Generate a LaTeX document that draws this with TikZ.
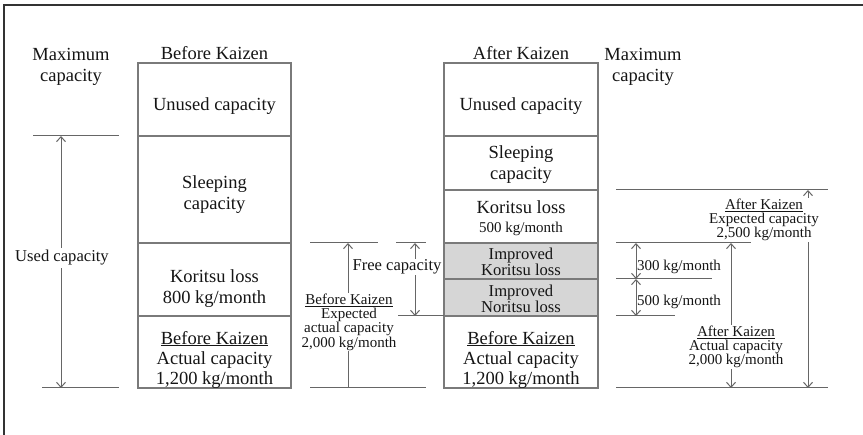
\documentclass[tikz,border=0pt]{standalone}
\usepackage{fontspec}
\setmainfont{Liberation Serif}
\newfontfamily\tmsf{Liberation Serif}
\usetikzlibrary{arrows.meta}
\definecolor{framec}{HTML}{333333}
\definecolor{boxc}{HTML}{7A7A7A}
\definecolor{dimc}{HTML}{666666}
\definecolor{grayfill}{HTML}{D6D6D6}
\definecolor{txt}{HTML}{151515}
\newcommand\bigf{\tmsf\fontsize{18.5}{21.5}\selectfont}
\newcommand\smf{\tmsf\fontsize{15}{14.3}\selectfont}
\newcommand\midf{\tmsf\fontsize{16.6}{16}\selectfont}
\begin{document}
\begin{tikzpicture}[x=1pt,y=-1pt,
  every node/.style={text=txt},
  frameline/.style={draw=framec, line width=1.5pt},
  cell/.style={draw=boxc, line width=1.2pt, minimum width=153pt, inner sep=0pt},
  graycell/.style={cell, fill=grayfill},
  celltext/.style={inner sep=0pt, align=center, font=\bigf, yshift=-5pt},
  graytext/.style={inner sep=0pt, align=center, font=\midf, yshift=-1pt},
  head/.style={inner sep=0pt, align=center, font=\bigf},
  dim/.style={draw=dimc, line width=1pt},
  arr/.style={dim, {Straight Barb[length=5pt,width=9pt]}-{Straight Barb[length=5pt,width=9pt]}},
  arrup/.style={dim, {Straight Barb[length=5pt,width=9pt]}-},
  lbl/.style={fill=white, inner sep=1pt, align=center, font=\smf},
  plain/.style={inner sep=0pt, align=center, font=\smf}
]
\useasboundingbox (0,0) rectangle (863,435);
% frame
\coordinate (f1) at (4,440);
\coordinate (f2) at (4,5);
\coordinate (f3) at (870,5);
\draw[frameline] (f1) -- (f2) -- (f3);

% headers
\node[head] (hb) at (214.5,53) {Before Kaizen};
\node[head] (ha) at (521,53) {After Kaizen};
\node[head] (ml) at (71,67) {Maximum\\capacity};
\node[head] (mr) at (643,67) {Maximum\\capacity};

% before kaizen column
\node[cell, minimum height=73pt] (bU) at (214.5,99.5) {};
\node[cell, minimum height=107pt] (bS) at (214.5,189.5) {};
\node[cell, minimum height=73pt] (bK) at (214.5,279.5) {};
\node[cell, minimum height=72pt] (bA) at (214.5,352) {};
\node[celltext, yshift=-2pt] (tbU) at (bU.center) {Unused capacity};
\node[celltext] (tbS) at (bS.center) {Sleeping\\capacity};
\node[celltext, yshift=-4pt] (tbK) at (bK.center) {Koritsu loss\\800 kg/month};
\node[celltext, yshift=-2.5pt] (tbA) at (bA.center) {\underline{Before Kaizen}\\[-1.5pt]Actual capacity\\[-1.5pt]1,200 kg/month};

% after kaizen column
\node[cell, minimum width=154pt, minimum height=73pt] (aU) at (521,99.5) {};
\node[cell, minimum width=154pt, minimum height=54pt] (aS) at (521,163) {};
\node[cell, minimum width=154pt, minimum height=53pt] (aK) at (521,216.5) {};
\node[graycell, minimum width=154pt, minimum height=36pt] (aIK) at (521,261) {};
\node[graycell, minimum width=154pt, minimum height=37pt] (aIN) at (521,297.5) {};
\node[cell, minimum width=154pt, minimum height=72pt] (aA) at (521,352) {};
\node[celltext, yshift=-2pt] (taU) at (aU.center) {Unused capacity};
\node[celltext, yshift=3.5pt] (taS) at (aS.center) {Sleeping\\capacity};
\node[celltext, yshift=3.5pt] (taK) at (aK.center) {Koritsu loss\\[-3pt]{\smf 500 kg/month}};
\node[graytext] (taIK) at (aIK.center) {Improved\\Koritsu loss};
\node[graytext] (taIN) at (aIN.center) {Improved\\Noritsu loss};
\node[celltext, yshift=-2.5pt] (taA) at (aA.center) {\underline{Before Kaizen}\\[-1.5pt]Actual capacity\\[-1.5pt]1,200 kg/month};

% left dimension
\coordinate (L1a) at (33,136);  \coordinate (L1b) at (119,136);
\coordinate (L2a) at (42,388);  \coordinate (L2b) at (119,388);
\coordinate (Lt) at (61,136);   \coordinate (Lb) at (61,388);
\draw[dim] (L1a) -- (L1b);
\draw[dim] (L2a) -- (L2b);
\draw[arr] (Lt) -- (Lb);
\node[lbl, font=\midf, inner sep=2pt] (used) at (62,258) {Used capacity};

% middle dimension
\coordinate (M1a) at (310,243); \coordinate (M1b) at (378,243);
\coordinate (M2a) at (396,243); \coordinate (M2b) at (426,243);
\coordinate (M3a) at (396,316); \coordinate (M3b) at (444,316);
\coordinate (M4a) at (310,388); \coordinate (M4b) at (426,388);
\draw[dim] (M1a) -- (M1b);
\draw[dim] (M2a) -- (M2b);
\draw[dim] (M3a) -- (M3b);
\draw[dim] (M4a) -- (M4b);
\coordinate (Mt) at (348,243); \coordinate (Mb) at (348,388);
\draw[arrup] (Mt) -- (Mb);
\coordinate (Ft) at (415,243); \coordinate (Fb) at (415,316);
\draw[arr] (Ft) -- (Fb);
\node[lbl, font=\midf, inner sep=0.5pt] (free) at (397,267) {Free capacity};
\node[lbl] (bexp) at (349,322) {\underline{Before Kaizen}\\Expected\\actual capacity\\2,000 kg/month};

% right dimension
\coordinate (R1a) at (616,190); \coordinate (R1b) at (828,190);
\coordinate (R2a) at (616,243); \coordinate (R2b) at (751,243);
\coordinate (R3a) at (616,279); \coordinate (R3b) at (712,279);
\coordinate (R4a) at (616,316); \coordinate (R4b) at (675,316);
\coordinate (R5a) at (616,388); \coordinate (R5b) at (828,388);
\draw[dim] (R1a) -- (R1b);
\draw[dim] (R2a) -- (R2b);
\draw[dim] (R3a) -- (R3b);
\draw[dim] (R4a) -- (R4b);
\draw[dim] (R5a) -- (R5b);
\coordinate (S1) at (636,243); \coordinate (S2) at (636,279); \coordinate (S3) at (636,316);
\draw[arr] (S1) -- (S2);
\draw[arr] (S2) -- (S3);
\coordinate (Ta) at (731,243); \coordinate (Tb) at (731,388);
\draw[arr] (Ta) -- (Tb);
\coordinate (Ua) at (808,190); \coordinate (Ub) at (808,388);
\draw[arr] (Ua) -- (Ub);
\node[plain, anchor=west] (k300) at (637,267) {300 kg/month};
\node[plain, anchor=west] (k500) at (637,302) {500 kg/month};
\node[lbl] (aact) at (736,347) {\underline{After Kaizen}\\Actual capacity\\2,000 kg/month};
\node[lbl] (aexp) at (764,220) {\underline{After Kaizen}\\Expected capacity\\2,500 kg/month};
\end{tikzpicture}
\end{document}
